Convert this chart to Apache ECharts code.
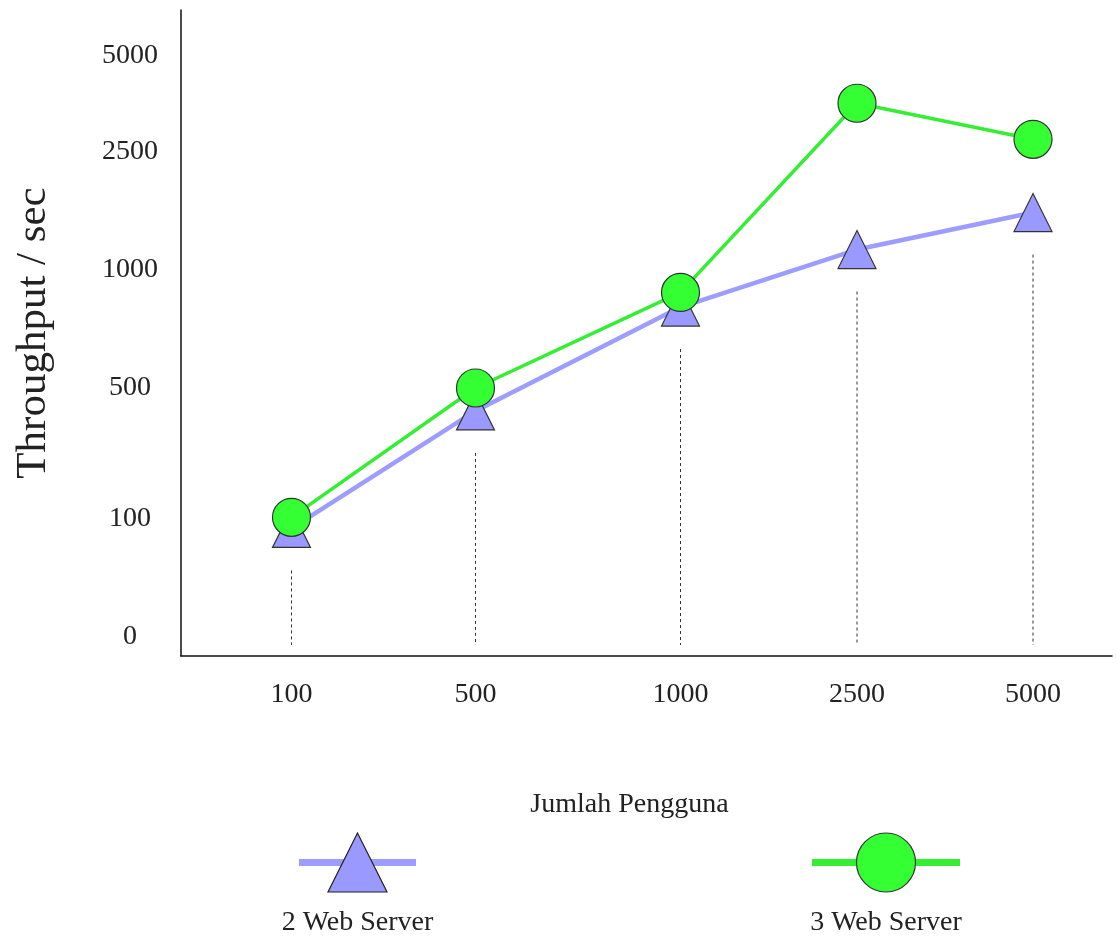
<!DOCTYPE html>
<html>
<head>
<meta charset="utf-8">
<script src="https://cdn.jsdelivr.net/npm/echarts@6/dist/echarts.min.js"></script>
<style>
  html, body { margin: 0; padding: 0; background: #fff; }
  #chart { width: 1116px; height: 937px; }
</style>
</head>
<body>
<div id="chart"></div>
<script>
// Number of concurrent users (x categories)
const userCounts = [100, 500, 1000, 2500, 5000];
// Throughput per second for each configuration
const twoServers = [92, 430, 843, 1260, 1730];
const threeServers = [105, 500, 905, 3770, 2830];
// Labelled ticks on the throughput axis
const yTickValues = [0, 100, 500, 1000, 2500, 5000];

const seriesNames = ['2 Web Server', '3 Web Server'];

// Piecewise scale: where each tick value sits along the vertical axis (axis units)
const Y_BREAKS = [0, 118, 249, 367, 485, 581];
// Where each user-count category sits along the horizontal axis (axis units)
const X_BREAKS = [110.5, 294.5, 499.5, 676, 852];

function yUnit(v) {
  for (let i = 1; i < yTickValues.length; i++) {
    if (v <= yTickValues[i] || i === yTickValues.length - 1) {
      const a = yTickValues[i - 1], b = yTickValues[i];
      return Y_BREAKS[i - 1] + (v - a) / (b - a) * (Y_BREAKS[i] - Y_BREAKS[i - 1]);
    }
  }
}
function nearestIndex(arr, u) {
  let best = 0;
  arr.forEach((x, i) => { if (Math.abs(x - u) < Math.abs(arr[best] - u)) best = i; });
  return best;
}

const FONT = "'Liberation Serif', 'Times New Roman', serif";
const TEXT = '#222';
const BLUE_LINE = '#9d9dff', BLUE_FILL = '#9999ff';
const GREEN_LINE = '#33ee33', GREEN_FILL = '#33ff33';

const toPoints = vals => vals.map((v, i) => ({ value: [X_BREAKS[i], yUnit(v)], raw: v }));

const chart = echarts.init(document.getElementById('chart'), null, { renderer: 'canvas' });

chart.setOption({
  animation: false,
  backgroundColor: '#fff',
  grid: { left: 181, right: 4, top: 10, bottom: 281, containLabel: false },
  xAxis: {
    type: 'value',
    min: 0,
    max: 931,
    name: 'Jumlah Pengguna',
    nameLocation: 'middle',
    nameGap: 135,
    nameTextStyle: { fontFamily: FONT, fontSize: 28, color: TEXT, padding: [0, 34, 0, 0] },
    axisLine: { show: true, onZero: false, lineStyle: { color: '#111', width: 1.5 } },
    axisTick: { show: false },
    splitLine: { show: false },
    axisLabel: {
      customValues: X_BREAKS,
      margin: 25,
      fontFamily: FONT, fontSize: 28, color: TEXT,
      formatter: u => String(userCounts[nearestIndex(X_BREAKS, u)])
    }
  },
  yAxis: {
    type: 'value',
    min: -19,
    max: 627,
    name: 'Throughput / sec',
    nameLocation: 'middle',
    nameGap: 126,
    nameTextStyle: { fontFamily: FONT, fontSize: 43, color: TEXT },
    axisLine: { show: true, onZero: false, lineStyle: { color: '#111', width: 1.5 } },
    axisTick: { show: false },
    splitLine: { show: false },
    axisLabel: {
      customValues: Y_BREAKS,
      margin: 51,
      align: 'center',
      fontFamily: FONT, fontSize: 28, color: TEXT,
      formatter: u => String(yTickValues[nearestIndex(Y_BREAKS, u)])
    }
  },
  series: [
    {
      // dotted guide dropped from each category toward the axis
      type: 'custom',
      silent: true,
      z: 1,
      data: userCounts.map((_, i) => [X_BREAKS[i], yUnit(Math.min(twoServers[i], threeServers[i]))]),
      renderItem: (params, api) => {
        const pt = api.coord([api.value(0), api.value(1)]);
        const cs = params.coordSys;
        const bottom = cs.y + cs.height - 11;
        const top = pt[1] + 42;
        return {
          type: 'line',
          shape: { x1: pt[0], y1: top, x2: pt[0], y2: bottom },
          style: { stroke: '#333', lineWidth: 1, lineDash: [3, 3] }
        };
      }
    },
    {
      name: seriesNames[0],
      type: 'line',
      z: 2,
      data: toPoints(twoServers),
      symbol: 'triangle',
      symbolSize: 38,
      lineStyle: { color: BLUE_LINE, width: 4.5 },
      itemStyle: { color: BLUE_FILL, borderColor: '#333', borderWidth: 1.2 }
    },
    {
      name: seriesNames[1],
      type: 'line',
      z: 3,
      data: toPoints(threeServers),
      symbol: 'circle',
      symbolSize: 38,
      lineStyle: { color: GREEN_LINE, width: 3.5 },
      itemStyle: { color: GREEN_FILL, borderColor: '#333', borderWidth: 1.2 }
    }
  ],
  graphic: [
    // legend: 2 Web Server
    { type: 'rect', shape: { x: 299, y: 859, width: 117, height: 7 }, style: { fill: BLUE_LINE } },
    { type: 'polygon', shape: { points: [[357.5, 833], [328, 892], [387, 892]] },
      style: { fill: BLUE_FILL, stroke: '#222', lineWidth: 1.2 } },
    { type: 'text', x: 357.5, y: 923,
      style: { text: seriesNames[0], fontFamily: FONT, fontSize: 28, fill: TEXT, align: 'center', verticalAlign: 'middle' } },
    // legend: 3 Web Server
    { type: 'rect', shape: { x: 812, y: 859, width: 148, height: 7 }, style: { fill: GREEN_LINE } },
    { type: 'circle', shape: { cx: 886, cy: 862.5, r: 29.5 },
      style: { fill: GREEN_FILL, stroke: '#333', lineWidth: 1.2 } },
    { type: 'text', x: 886, y: 923,
      style: { text: seriesNames[1], fontFamily: FONT, fontSize: 28, fill: TEXT, align: 'center', verticalAlign: 'middle' } }
  ]
});
</script>
</body>
</html>
